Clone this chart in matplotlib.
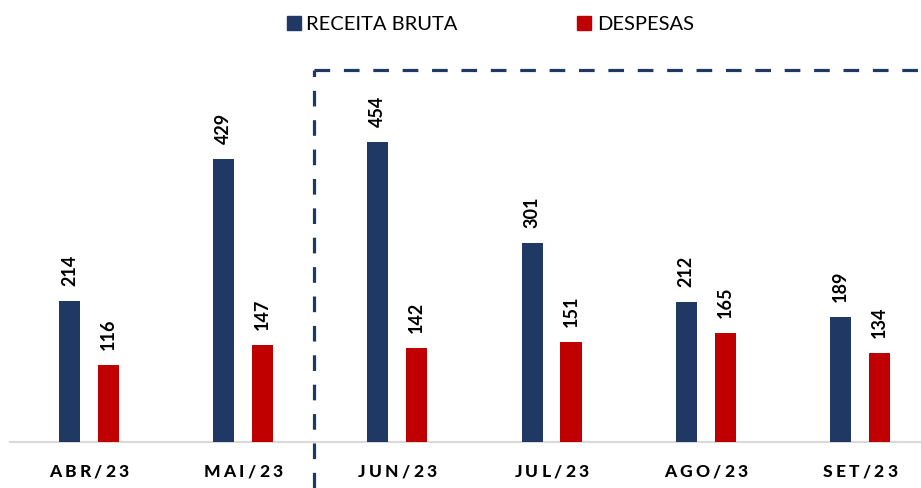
import matplotlib
matplotlib.use("Agg")
import matplotlib.pyplot as plt
import numpy as np
from matplotlib.lines import Line2D
from matplotlib.patches import Rectangle
from matplotlib.font_manager import FontProperties

categories = ["ABR/23", "MAI/23", "JUN/23", "JUL/23", "AGO/23", "SET/23"]
receita = [214, 429, 454, 301, 212, 189]
despesas = [116, 147, 142, 151, 165, 134]
series_names = ["RECEITA BRUTA", "DESPESAS"]

BLUE = "#1F3864"
RED = "#C00000"
FONT = ["Lato", "DejaVu Sans"]

W, H = 921, 489
fig = plt.figure(figsize=(W / 100, H / 100), dpi=100)
ax = fig.add_axes([10 / W, 46 / H, 1 - 10 / W, 1 - 46 / H])

x = np.arange(len(categories))
bw = 0.137
off = 0.126
ax.bar(x - off, receita, bw, color=BLUE, zorder=3)
ax.bar(x + off, despesas, bw, color=RED, zorder=3)

ax.set_xlim(-0.512, 5.396)
ax.set_ylim(0, 443 / 0.6608)

for xs, vals in [(x - off, receita), (x + off, despesas)]:
    for xi, v in zip(xs, vals):
        ax.annotate(str(v), (xi, v), xytext=(0, 11.5), textcoords="offset points",
                    rotation=90, ha="center", va="bottom", fontsize=13,
                    fontweight="bold", family=FONT, color="black")

for s in ["top", "right", "left"]:
    ax.spines[s].set_visible(False)
ax.spines["bottom"].set_color("#D9D9D9")
ax.spines["bottom"].set_linewidth(1.5)
ax.set_yticks([])
ax.set_xticks(x)
ax.set_xticklabels([""] * len(categories))
ax.tick_params(axis="x", length=0)

# letter-spaced category labels
fp = FontProperties(family=FONT, weight=900, size=12.5)
spacing = 3.2  # extra px between characters
renderer = fig.canvas.get_renderer()
for xi, lab in zip(x, categories):
    widths = []
    for ch in lab:
        t = fig.text(0, 0, ch, fontproperties=fp)
        widths.append(t.get_window_extent(renderer).width)
        t.remove()
    total = sum(widths) + spacing * (len(lab) - 1)
    cx_disp = ax.transData.transform((xi, 0))[0]
    start = cx_disp - total / 2
    for ch, w in zip(lab, widths):
        fig.text(start / W, 1 - 472 / H, ch, fontproperties=fp, ha="left",
                 va="center", color="black")
        start += w + spacing

# dashed box
dash = (4.9, 4.3)
lv = Line2D([314 / W, 314 / W], [0, 1 - 71 / H], transform=fig.transFigure,
            color=BLUE, lw=2.3, dashes=dash, zorder=5)
lh = Line2D([314 / W, 1.0], [1 - 71 / H, 1 - 71 / H], transform=fig.transFigure,
            color=BLUE, lw=2.3, dashes=dash, zorder=5)
fig.add_artist(lv)
fig.add_artist(lh)

# legend
for (lx, tx, name, col) in [(287, 306, series_names[0], BLUE), (577, 597, series_names[1], RED)]:
    fig.add_artist(Rectangle((lx / W, 1 - 31 / H), 14 / W, 14 / H,
                             transform=fig.transFigure, color=col))
    fig.text(tx / W, 1 - 24 / H, name, fontsize=14.5, family=FONT,
             va="center", ha="left", color="black")

fig.savefig("out.png", dpi=100)
